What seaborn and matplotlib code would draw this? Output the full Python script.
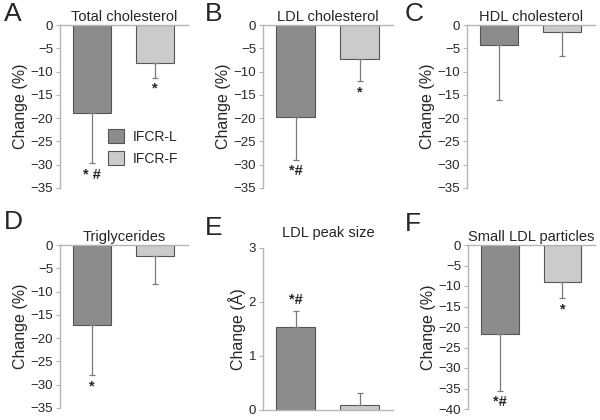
import numpy as np
import pandas as pd
import matplotlib
matplotlib.use("Agg")
import matplotlib.pyplot as plt
import seaborn as sns
from matplotlib.patches import Patch

sns.set_style("white")
plt.rcParams['font.family'] = ['Liberation Sans', 'DejaVu Sans']

groups = ['IFCR-L', 'IFCR-F']
colors = ['#8c8c8c', '#cbcbcb']

titles = ['Total cholesterol', 'LDL cholesterol', 'HDL cholesterol',
          'Triglycerides', 'LDL peak size', 'Small LDL particles']
letters = ['A', 'B', 'C', 'D', 'E', 'F']
ylabels = ['Change (%)'] * 4 + ['Change (\u00c5)', 'Change (%)']

# mean change per group and one-sided SD
total_chol = [-19.0, -8.1]
total_chol_sd = [10.7, 3.2]
ldl_chol = [-19.8, -7.4]
ldl_chol_sd = [9.2, 4.7]
hdl_chol = [-4.4, -1.5]
hdl_chol_sd = [11.6, 5.1]
triglycerides = [-17.1, -2.4]
triglycerides_sd = [10.9, 6.0]
ldl_peak = [1.53, 0.10]
ldl_peak_sd = [0.31, 0.21]
small_ldl = [-21.8, -9.0]
small_ldl_sd = [13.8, 4.0]

# significance marks
marks = [['* #', '*'], ['*#', '*'], ['', ''], ['*', ''], ['*#', ''], ['*#', '*']]

means = [total_chol, ldl_chol, hdl_chol, triglycerides, ldl_peak, small_ldl]
sds = [total_chol_sd, ldl_chol_sd, hdl_chol_sd, triglycerides_sd, ldl_peak_sd, small_ldl_sd]
ylims = [(-35, 0)] * 4 + [(0, 3), (-40, 0)]
yticks = [np.arange(-35, 1, 5)] * 4 + [np.arange(0, 4, 1), np.arange(-40, 1, 5)]

W, H = 600, 420
# axes boxes in pixels: left, top, right, bottom
boxes = [(60, 25, 188, 188), (263, 25, 393, 188), (467, 25, 595, 188),
         (60, 245, 188, 408), (263, 248, 393, 410), (468, 245, 595, 409)]
letter_pos = [(4, 14), (205, 14), (405, 14), (4, 222), (205, 228), (405, 224)]

fig = plt.figure(figsize=(6, 4.2), dpi=100)
spine_col = '#b5b5b5'

for i in range(6):
    l, t, r, b = boxes[i]
    ax = fig.add_axes([l / W, 1 - b / H, (r - l) / W, (b - t) / H])
    df = pd.DataFrame({'group': groups, 'value': means[i]})
    sns.barplot(data=df, x='group', y='value', hue='group', palette=colors,
                width=0.6, errorbar=None, edgecolor='#555555', linewidth=0.8,
                legend=False, ax=ax)
    neg = means[i][0] < 0
    for j in range(2):
        m = means[i][j]
        s = sds[i][j]
        lo, hi = ([s], [0]) if neg else ([0], [s])
        ax.errorbar(j, m, yerr=[lo, hi], fmt='none', ecolor='#7a7a7a',
                    elinewidth=0.9, capsize=2.5, capthick=0.9)
        end = m - s if neg else m + s
        if marks[i][j]:
            if neg:
                ax.text(j, end - 0.9, marks[i][j], ha='center', va='top',
                        fontsize=10.5, fontweight='bold')
            else:
                ax.text(j, end + 0.06, marks[i][j], ha='center', va='bottom',
                        fontsize=10.5, fontweight='bold')
    ax.set_xlim(-0.51, 1.52)
    ax.set_ylim(*ylims[i])
    ax.set_yticks(yticks[i])
    ax.set_xticks([])
    ax.set_xlabel('')
    ax.set_ylabel(ylabels[i], fontsize=11.5, labelpad=2)
    ax.tick_params(axis='y', labelsize=9.5, length=3, width=0.8, color=spine_col, pad=2, left=True)
    ax.spines['right'].set_visible(False)
    if neg:
        ax.spines['bottom'].set_visible(False)
    else:
        ax.spines['top'].set_visible(False)
    for side in ['left', 'top', 'bottom']:
        ax.spines[side].set_color(spine_col)
        ax.spines[side].set_linewidth(1.0)
    ax.set_title(titles[i], fontsize=10.5, pad=3 if neg else 8)
    fig.text(letter_pos[i][0] / W, 1 - letter_pos[i][1] / H, letters[i],
             fontsize=19, ha='left', va='center')
    if i == 0:
        handles = [Patch(facecolor=colors[k], edgecolor='#555555', linewidth=0.8)
                   for k in range(2)]
        ax.legend(handles, groups, loc='lower right', bbox_to_anchor=(1.02, 0.06),
                  frameon=False, fontsize=10, handlelength=1.2, handleheight=1.2,
                  handletextpad=0.6, labelspacing=0.5)

fig.savefig('out.png', dpi=100)
